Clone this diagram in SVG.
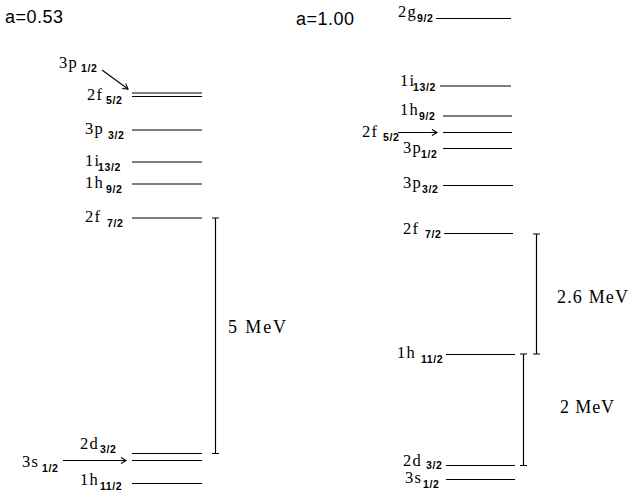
<svg xmlns="http://www.w3.org/2000/svg" width="629" height="501" viewBox="0 0 629 501">
<style>
.lb{font-family:"Liberation Serif",serif;font-size:16.5px;letter-spacing:1.3px;fill:#000}
.sb{font-family:"Liberation Sans",sans-serif;font-size:10.5px;font-weight:bold;letter-spacing:0.6px}
.hd{font-family:"Liberation Sans",sans-serif;font-size:18px;fill:#000}
.mv{font-family:"Liberation Serif",serif;font-size:18px;fill:#000}
.lvl{stroke:#000;stroke-width:1.2;fill:none}
.bar{stroke:#000;stroke-width:1.2;fill:none}
.arr{stroke:#000;stroke-width:1.1;fill:none;marker-end:url(#ah)}
</style>
<defs>
<marker id="ah" markerWidth="8" markerHeight="8" refX="6" refY="4" orient="auto" markerUnits="userSpaceOnUse">
<path d="M1,1 L6,4 L1,7" fill="none" stroke="#000" stroke-width="1.1"/>
</marker>
</defs>
<rect width="629" height="501" fill="#fff"/>
<text class="hd" x="5" y="23" textLength="58" lengthAdjust="spacing">a=0.53</text>
<text class="hd" x="296" y="25" textLength="58" lengthAdjust="spacing">a=1.00</text>

<g id="L-3p12"><text class="lb" x="59" y="68">3p<tspan class="sb" x="81" y="72">1/2</tspan></text></g>
<g id="L-2f52"><text class="lb" x="87" y="100">2f<tspan class="sb" x="106" y="104">5/2</tspan></text>
<line class="lvl" x1="132" y1="93" x2="202" y2="93"/><line class="lvl" x1="132" y1="96.5" x2="202" y2="96.5"/></g>
<g id="L-3p32"><text class="lb" x="85" y="133.5">3p<tspan class="sb" x="108" y="139">3/2</tspan></text><line class="lvl" x1="132" y1="130" x2="202" y2="130"/></g>
<g id="L-1i132"><text class="lb" x="85" y="166">1i<tspan class="sb" x="98" y="170.5">13/2</tspan></text><line class="lvl" x1="132" y1="162" x2="202" y2="162"/></g>
<g id="L-1h92"><text class="lb" x="85" y="188">1h<tspan class="sb" x="106" y="192.5">9/2</tspan></text><line class="lvl" x1="132" y1="184" x2="202" y2="184"/></g>
<g id="L-2f72"><text class="lb" x="85" y="222">2f<tspan class="sb" x="107" y="227">7/2</tspan></text><line class="lvl" x1="132" y1="218" x2="202" y2="218"/></g>
<g id="L-2d32"><text class="lb" x="80" y="449">2d<tspan class="sb" x="100" y="453">3/2</tspan></text>
<line class="lvl" x1="132" y1="453.5" x2="202" y2="453.5"/><line class="lvl" x1="132" y1="460.5" x2="202" y2="460.5"/></g>
<g id="L-3s12"><text class="lb" x="22" y="467">3s<tspan class="sb" x="42" y="472">1/2</tspan></text></g>
<g id="L-1h112"><text class="lb" x="80" y="485">1h<tspan class="sb" x="100" y="490">11/2</tspan></text><line class="lvl" x1="132" y1="483.5" x2="202" y2="483.5"/></g>
<g id="L-5MeV"><text class="mv" x="228" y="333" textLength="58" lengthAdjust="spacing">5 MeV</text></g>

<g id="R-2g92"><text class="lb" x="398" y="17">2g<tspan class="sb" x="417" y="21.5">9/2</tspan></text><line class="lvl" x1="436" y1="18.5" x2="511" y2="18.5"/></g>
<g id="R-1i132"><text class="lb" x="400" y="86">1i<tspan class="sb" x="413" y="91">13/2</tspan></text><line class="lvl" x1="440" y1="86" x2="511" y2="86"/></g>
<g id="R-1h92"><text class="lb" x="400" y="115">1h<tspan class="sb" x="419" y="120">9/2</tspan></text><line class="lvl" x1="443" y1="116" x2="512" y2="116"/></g>
<g id="R-2f52"><text class="lb" x="362" y="137">2f<tspan class="sb" x="383" y="141">5/2</tspan></text><line class="lvl" x1="443" y1="132.5" x2="512" y2="132.5"/></g>
<g id="R-3p12"><text class="lb" x="403" y="152.5">3p<tspan class="sb" x="421" y="158">1/2</tspan></text><line class="lvl" x1="443" y1="148.5" x2="512" y2="148.5"/></g>
<g id="R-3p32"><text class="lb" x="403" y="188">3p<tspan class="sb" x="422" y="193">3/2</tspan></text><line class="lvl" x1="443" y1="185.5" x2="513" y2="185.5"/></g>
<g id="R-2f72"><text class="lb" x="403" y="234">2f<tspan class="sb" x="425" y="238">7/2</tspan></text><line class="lvl" x1="444" y1="233.5" x2="513" y2="233.5"/></g>
<g id="R-1h112"><text class="lb" x="397" y="358">1h<tspan class="sb" x="421" y="363">11/2</tspan></text><line class="lvl" x1="446" y1="354.5" x2="515" y2="354.5"/></g>
<g id="R-2d32"><text class="lb" x="403" y="465.5">2d<tspan class="sb" x="426" y="468.5">3/2</tspan></text><line class="lvl" x1="446" y1="465.5" x2="515" y2="465.5"/></g>
<g id="R-3s12"><text class="lb" x="405" y="483">3s<tspan class="sb" x="423" y="488">1/2</tspan></text><line class="lvl" x1="446" y1="479.5" x2="515" y2="479.5"/></g>
<g id="R-26MeV"><text class="mv" x="557" y="303" textLength="71" lengthAdjust="spacing">2.6 MeV</text></g>
<g id="R-2MeV"><text class="mv" x="560" y="413" textLength="54" lengthAdjust="spacing">2 MeV</text></g>

<g id="connectors">
<line class="arr" x1="102" y1="70" x2="128" y2="89"/>
<line class="arr" x1="63" y1="460.5" x2="126" y2="460.5"/>
<line class="arr" x1="398" y1="132.5" x2="437" y2="132.5"/>
<path class="bar" d="M215.5,218 V453.5 M212,218 H219 M212,453.5 H219"/>
<path class="bar" d="M536.5,234 V354 M533,234 H540 M533,354 H540"/>
<path class="bar" d="M523.5,354 V465.5 M520,354 H527 M520,465.5 H527"/>
</g>
</svg>
